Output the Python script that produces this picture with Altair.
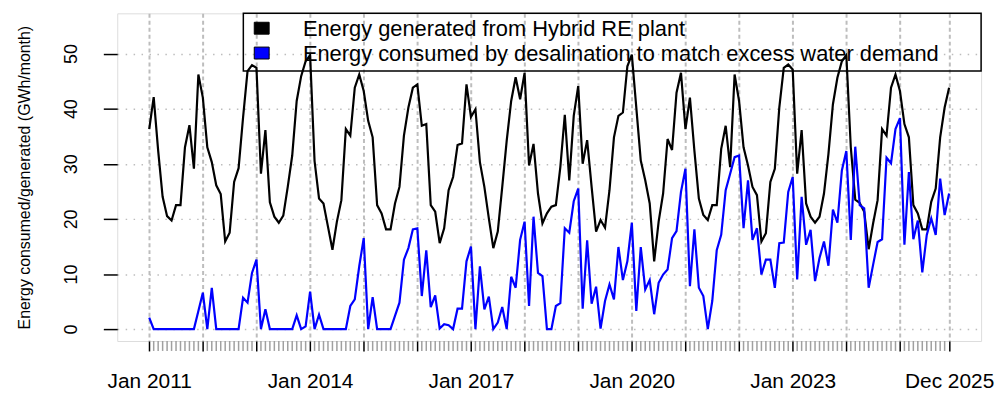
import altair as alt
import pandas as pd

# Monthly index: 0 = Jan 2011 ... 179 = Dec 2025
months = list(range(180))

generated = [
    36.3, 42.1, 32.4, 24.0, 20.5, 19.7, 22.5, 22.5, 33.0, 37.0, 29.1, 46.2,
    42.0, 33.0, 30.3, 26.1, 24.5, 15.9, 17.5, 26.7, 29.2, 38.4, 46.8, 47.9,
    47.4, 28.2, 36.1, 23.0, 20.4, 19.3, 20.6, 25.8, 31.5, 41.4, 45.9, 48.6,
    49.7, 30.5, 23.7, 22.8, 18.6, 14.4, 19.5, 23.4, 36.3, 35.1, 43.8, 46.2,
    43.2, 37.8, 34.8, 22.5, 21.0, 18.1, 18.1, 22.8, 25.8, 35.1, 40.2, 43.8,
    44.4, 36.9, 37.2, 22.5, 21.3, 15.6, 18.3, 25.2, 27.6, 33.4, 33.7, 44.4,
    38.5, 39.9, 30.3, 25.8, 20.1, 14.7, 17.7, 25.8, 34.2, 41.4, 45.7, 41.7,
    46.5, 29.7, 33.6, 24.6, 19.2, 21.0, 22.2, 22.5, 29.4, 38.9, 27.0, 38.7,
    44.1, 30.0, 34.3, 25.8, 17.7, 19.8, 18.4, 25.2, 34.8, 38.7, 39.3, 47.7,
    49.8, 40.2, 30.6, 27.0, 22.8, 12.3, 19.5, 24.6, 34.5, 32.5, 42.9, 46.5,
    36.3, 42.0, 32.4, 23.7, 20.7, 19.8, 22.5, 22.5, 32.7, 36.9, 29.4, 46.2,
    41.4, 33.0, 29.7, 25.8, 24.3, 15.9, 17.4, 26.7, 29.1, 40.2, 47.4, 48.0,
    47.1, 28.2, 36.1, 22.8, 20.4, 19.3, 20.4, 24.6, 31.8, 40.8, 45.6, 48.6,
    49.7, 33.0, 23.5, 22.9, 21.3, 14.5, 19.2, 23.4, 36.3, 35.1, 43.8, 46.2,
    43.2, 37.2, 34.8, 22.5, 21.0, 18.1, 18.1, 23.1, 25.5, 34.8, 40.2, 43.8,
]

consumed = [
    2.1, 0, 0, 0, 0, 0, 0, 0, 0, 0, 0, 3.3,
    6.6, 0, 7.5, 0, 0, 0, 0, 0, 0, 5.7, 4.8, 10.2,
    12.6, 0, 3.6, 0, 0, 0, 0, 0, 0, 2.5, 0, 0.5,
    6.8, 0, 2.6, 0, 0, 0, 0, 0, 0, 4.2, 5.4, 11.4,
    16.5, 0, 5.8, 0, 0, 0, 0, 2.4, 4.8, 12.6, 14.7, 18.1,
    18.3, 6.0, 14.3, 4.0, 6.1, 0.1, 0.9, 0.7, 0, 3.7, 3.7, 12.3,
    15.0, 0, 11.4, 3.6, 5.9, 0, 1.2, 4.0, 0, 9.5, 7.5, 16.2,
    19.5, 4.2, 20.4, 10.2, 9.6, 0, 0, 4.2, 4.7, 18.3, 17.5, 23.2,
    25.5, 3.7, 16.1, 4.6, 7.7, 0.1, 5.1, 8.1, 5.4, 14.9, 8.9, 12.3,
    19.3, 3.3, 14.9, 7.2, 8.9, 2.7, 8.4, 9.9, 10.8, 16.5, 17.8, 24.9,
    29.1, 7.8, 18.1, 7.5, 6.0, 0, 5.1, 14.3, 17.1, 25.2, 28.2, 31.2,
    31.5, 18.3, 27.0, 16.2, 18.3, 9.9, 12.6, 12.6, 7.5, 15.6, 15.7, 24.9,
    27.6, 9.0, 24.0, 15.3, 18.0, 8.7, 12.9, 15.9, 11.5, 21.7, 19.3, 28.8,
    32.3, 16.2, 33.1, 22.5, 21.9, 7.5, 11.7, 15.8, 16.3, 31.1, 30.1, 36.3,
    38.3, 15.3, 28.5, 16.3, 19.7, 10.3, 17.1, 20.1, 17.1, 27.3, 20.7, 24.6,
]

label_positions = [0, 36, 72, 108, 144, 179]
label_texts = ["Jan 2011", "Jan 2014", "Jan 2017", "Jan 2020", "Jan 2023", "Dec 2025"]
major_ticks = [0, 12, 24, 36, 48, 60, 72, 84, 96, 108, 120, 132, 144, 156, 168, 179]
y_ticks = [0, 10, 20, 30, 40, 50]
legend_labels = ["Energy generated from Hybrid RE plant",
                 "Energy consumed by desalination to match excess water demand"]
series_colors = ["#000000", "#0000ff"]
y_title = "Energy consumed/generated (GWh/month)"

FONT = "Liberation Sans"
GRID = "#bdbdbd"

label_expr = " : ".join(f"datum.value == {p} ? '{t}'" for p, t in zip(label_positions, label_texts)) + " : ''"

x_enc = alt.X(
    "m:Q",
    scale=alt.Scale(domain=[-7.16, 186.16], nice=False, zero=False),
    axis=alt.Axis(
        values=major_ticks, labelExpr=label_expr, labelOverlap=False, labelFlush=False,
        grid=True, gridDash=[4, 3], gridColor=GRID, gridWidth=2,
        tickSize=10, tickColor="black", tickWidth=1.5, domain=False,
        labelFont=FONT, labelFontSize=21, labelColor="black",
        labelBaseline="alphabetic", labelPadding=37, title=None,
    ),
)
y_enc = alt.Y(
    "v:Q",
    scale=alt.Scale(domain=[-2.16, 57.3], nice=False, zero=False),
    axis=alt.Axis(
        values=y_ticks, grid=True, gridDash=[1.5, 6.5], gridColor=GRID, gridWidth=1.5,
        tickSize=14, tickColor="black", tickWidth=1.5, domain=False,
        labelAngle=270, labelAlign="center", labelBaseline="alphabetic", labelPadding=27,
        labelFont=FONT, labelFontSize=18, labelColor="black",
        title=y_title, titleFont=FONT, titleFontSize=16, titleFontWeight="normal",
        titleColor="black", titlePadding=30,
    ),
)

gen_df = pd.DataFrame({"m": months, "v": generated})
con_df = pd.DataFrame({"m": months, "v": consumed})
minor_df = pd.DataFrame({"m": [m for m in months if m not in major_ticks]})

minor_ticks = alt.Chart(minor_df).mark_rule(color="#a0a0a0", strokeWidth=1.5).encode(
    x=x_enc, y=alt.value(330), y2=alt.value(340)
)
gen_line = alt.Chart(gen_df).mark_line(color=series_colors[0], strokeWidth=2.2).encode(x=x_enc, y=y_enc)
con_line = alt.Chart(con_df).mark_line(color=series_colors[1], strokeWidth=2.2).encode(x=x_enc, y=y_enc)

one = pd.DataFrame({"a": [0]})
legend_box = alt.Chart(one).mark_rect(filled=False, stroke="black", strokeWidth=1.5).encode(
    x=alt.value(127), x2=alt.value(870), y=alt.value(0), y2=alt.value(58)
)

layers = [minor_ticks, gen_line, con_line, legend_box]
for k, (lab, col) in enumerate(zip(legend_labels, series_colors)):
    yc = 15 + 25 * k
    ldf = pd.DataFrame({"label": [lab]})
    layers.append(
        alt.Chart(ldf).mark_rect(fill=col, stroke="black", strokeWidth=1).encode(
            x=alt.value(138), x2=alt.value(153), y=alt.value(yc - 6), y2=alt.value(yc + 6)
        )
    )
    layers.append(
        alt.Chart(ldf).mark_text(align="left", baseline="middle", font=FONT, fontSize=22, color="black").encode(
            x=alt.value(187), y=alt.value(yc + 1), text="label:N"
        )
    )

chart = alt.layer(*layers).properties(
    width=870, height=330,
    autosize=alt.AutoSizeParams(type="none"),
    padding={"left": 110, "top": 4, "right": 14, "bottom": 52},
).configure_view(stroke="black", strokeWidth=2).configure(background="white")

chart.save("out.html", embed_options={"renderer": "svg", "actions": False})
